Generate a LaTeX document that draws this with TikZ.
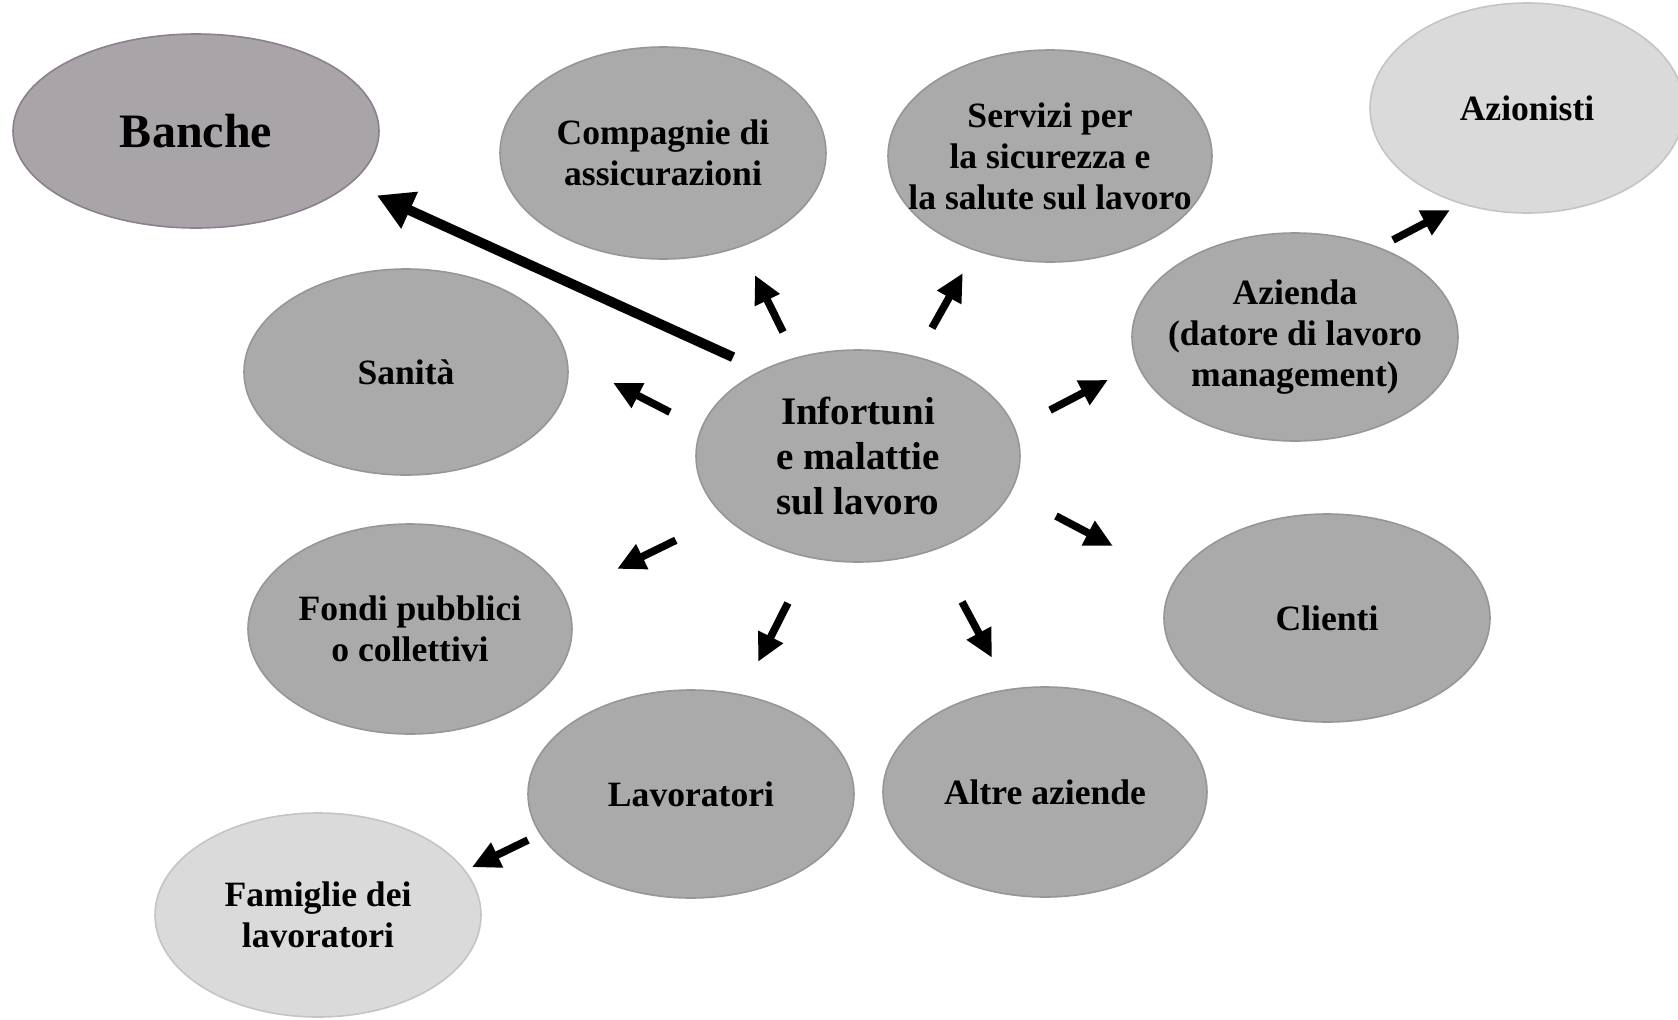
\documentclass[tikz,border=0pt]{standalone}
\usepackage{fontspec}
\setmainfont{Liberation Serif}
\usetikzlibrary{shapes.geometric,arrows.meta,calc}

\definecolor{midfill}{RGB}{170,170,170}
\definecolor{midline}{RGB}{150,150,150}
\definecolor{lightfill}{RGB}{218,218,218}
\definecolor{lightline}{RGB}{196,196,196}
\definecolor{bankfill}{RGB}{168,164,168}
\definecolor{bankline}{RGB}{140,128,142}

\tikzset{
  bubble/.style={ellipse, fill=midfill, draw=midline, line width=0.8pt,
    minimum width=162pt, minimum height=104pt, inner xsep=-30pt, inner ysep=-30pt,
    align=center, font=\bfseries\fontsize{17.8}{20.5}\selectfont},
  lightbubble/.style={bubble, fill=lightfill, draw=lightline},
  shortarrow/.style={line width=3.8pt, -{Triangle[length=14pt,width=13pt]}},
  longarrow/.style={line width=5pt, -{Triangle[length=18pt,width=19pt]}},
}

\begin{document}
\begin{tikzpicture}[x=0.5pt,y=0.5pt,yscale=-1,xscale=1]
\useasboundingbox (0,0) rectangle (1678,1019);

%Shape: Ellipse
\node [bubble, fill=bankfill, draw=bankline, minimum width=183pt, minimum height=97pt,
  font=\bfseries\fontsize{24}{27}\selectfont] (banche) at (196,131) {Banche};
%Shape: Ellipse
\node [bubble, minimum width=163pt, minimum height=106pt] (comp) at (663,153) {Compagnie di\\assicurazioni};
%Shape: Ellipse
\node [bubble, minimum height=106pt] (serv) at (1050,156) {Servizi per\\la sicurezza e\\la salute sul lavoro};
%Shape: Ellipse
\node [lightbubble, minimum width=157pt, minimum height=105pt] (azion) at (1527,108) {Azionisti};
%Shape: Ellipse
\node [bubble, minimum height=103pt] (sanita) at (406,372) {Sanità};
%Shape: Ellipse
\node [bubble, minimum height=106pt, font=\bfseries\fontsize{19.5}{22.5}\selectfont] (inf) at (858,456) {Infortuni\\e malattie\\sul lavoro};
%Shape: Ellipse
\node [bubble, minimum width=163pt] (azienda) at (1295,337) {Azienda\\(datore di lavoro\\management)};
%Shape: Ellipse
\node [bubble, minimum height=105pt] (fondi) at (410,629) {Fondi pubblici\\o collettivi};
%Shape: Ellipse
\node [bubble, minimum width=163pt] (clienti) at (1327,618) {Clienti};
%Shape: Ellipse
\node [bubble, minimum width=163pt] (lav) at (691,794) {Lavoratori};
%Shape: Ellipse
\node [bubble, minimum height=105pt] (altre) at (1045,792) {Altre aziende};
%Shape: Ellipse
\node [lightbubble, minimum width=163pt, minimum height=102pt] (fam) at (318,915) {Famiglie dei\\lavoratori};

%Long Arrow
\draw [longarrow] ($(inf)!0.216!12.2:(banche)$) -- ($(inf)!0.742!2.3:(banche)$);
%Short Arrows
\draw [shortarrow] ($(inf)!0.402!1.6:(comp)$) -- ($(inf)!0.578!3.1:(comp)$);
\draw [shortarrow] ($(inf)!0.415!-2.6:(serv)$) -- ($(inf)!0.592!-2.8:(serv)$);
\draw [shortarrow] ($(inf)!0.420!2.6:(sanita)$) -- ($(inf)!0.556!6.1:(sanita)$);
\draw [shortarrow] ($(inf)!0.436!1.8:(azienda)$) -- ($(inf)!0.577!-1.7:(azienda)$);
\draw [shortarrow] ($(inf)!0.418!-3.7:(fondi)$) -- ($(inf)!0.554!-4.0:(fondi)$);
\draw [shortarrow] ($(inf)!0.417!-2.2:(clienti)$) -- ($(inf)!0.545!0.4:(clienti)$);
\draw [shortarrow] ($(inf)!0.432!-0.8:(lav)$) -- ($(inf)!0.607!-0.4:(lav)$);
\draw [shortarrow] ($(inf)!0.466!-6.4:(altre)$) -- ($(inf)!0.630!-4.5:(altre)$);
\draw [shortarrow] ($(azienda)!0.423!-0.1:(azion)$) -- ($(azienda)!0.615!5.3:(azion)$);
\draw [shortarrow] ($(lav)!0.432!2.2:(fam)$) -- ($(lav)!0.589!-0.5:(fam)$);
\end{tikzpicture}
\end{document}
